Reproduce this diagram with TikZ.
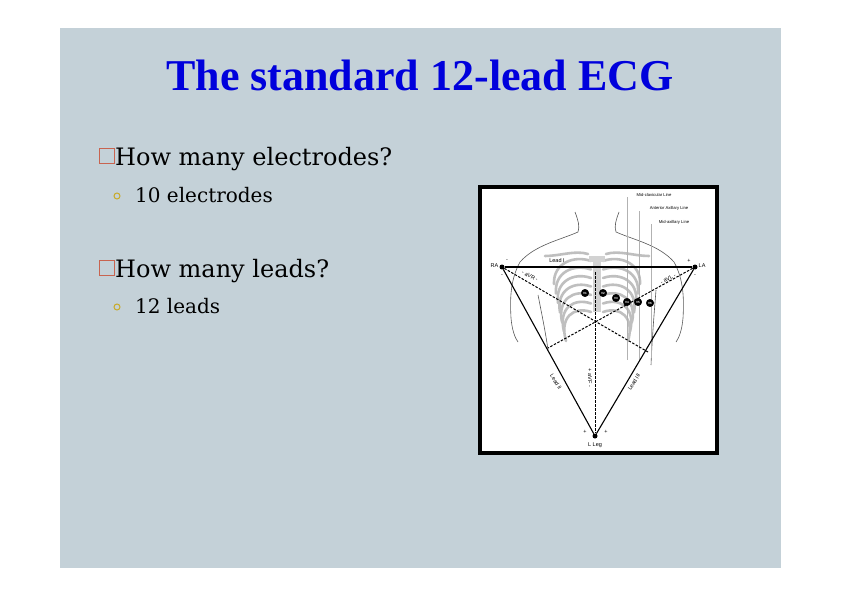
\documentclass[tikz,border=0pt]{standalone}
\usepackage{fontspec}
\setmainfont{Liberation Serif}
\newfontfamily\geo{DejaVu Serif}
\newfontfamily\sansf{Liberation Sans}
\begin{document}
\begin{tikzpicture}[x=1pt,y=-1pt,
  rib/.style={line width=2.6pt,gray!50,line cap=round},
  body/.style={gray!70!black,line width=0.6pt},
  lead/.style={black,line width=1.1pt},
  aug/.style={black,line width=1pt,dashed,dash pattern=on 2.5pt off 1.5pt},
  vline/.style={gray!60,line width=0.7pt},
  elec/.style={circle,fill=black,draw=black,inner sep=0pt,minimum size=7.5pt,text=white,font=\sansf\fontsize{3}{3}\selectfont\bfseries},
  tiny/.style={font=\sansf\fontsize{4.2}{5}\selectfont,inner sep=0.5pt},
  small/.style={font=\sansf\fontsize{5.5}{6}\selectfont,inner sep=0.5pt}]
\useasboundingbox (0,0) rectangle (842,596);
\fill[white] (0,0) rectangle (842,596);
\fill[fill={rgb,255:red,196;green,209;blue,216}] (60,28) rectangle (781,568);
\node[text={rgb,255:red,0;green,0;blue,220},font=\fontsize{44}{46}\selectfont\bfseries] (title) at (420,75) {The standard 12-lead ECG};
% bullets
\node[draw={rgb,255:red,200;green,100;blue,80},line width=0.7pt,minimum size=15pt,inner sep=0pt] (b1) at (107,156) {};
\node[anchor=base west,font=\geo\fontsize{24}{26}\selectfont,inner sep=0pt] (t1) at (115,165) {How many electrodes?};
\node[draw={rgb,255:red,200;green,170;blue,40},circle,line width=1pt,minimum size=6pt,inner sep=0pt] (c1) at (117,196) {};
\node[anchor=base west,font=\geo\fontsize{20}{22}\selectfont,inner sep=0pt] (s1) at (135,202) {10 electrodes};
\node[draw={rgb,255:red,200;green,100;blue,80},line width=0.7pt,minimum size=15pt,inner sep=0pt] (b2) at (107,268) {};
\node[anchor=base west,font=\geo\fontsize{24}{26}\selectfont,inner sep=0pt] (t2) at (115,277) {How many leads?};
\node[draw={rgb,255:red,200;green,170;blue,40},circle,line width=1pt,minimum size=6pt,inner sep=0pt] (c2) at (117,307) {};
\node[anchor=base west,font=\geo\fontsize{20}{22}\selectfont,inner sep=0pt] (s2) at (135,313) {12 leads};
% picture frame
\draw[line width=4pt,fill=white] (480,187) rectangle (717,453);
% body
\draw[body] (575,212) .. controls (578,220) and (580,226) .. (578,232) .. controls (560,240) and (535,245) .. (520,262) .. controls (510,280) and (510,300) .. (511,318) .. controls (512,330) and (515,338) .. (518,342);
\draw[body] (619,212) .. controls (616,220) and (614,226) .. (616,232) .. controls (634,240) and (659,245) .. (674,262) .. controls (684,280) and (684,300) .. (683,318) .. controls (682,330) and (679,338) .. (676,342);
\draw[body] (538,295) .. controls (542,315) and (546,335) .. (548,350);
\draw[body] (656,290) .. controls (654,315) and (652,340) .. (651,365);
% clavicles
\draw[rib] (588,254) .. controls (575,250) and (560,256) .. (545,256);
\draw[rib] (606,254) .. controls (619,250) and (634,256) .. (649,256);
% ribs
\foreach \i in {0,...,6}{
  \draw[rib] (591,{261+8.5*\i}) .. controls (574,{255+8.5*\i}) and ({553+\i},{263+9*\i}) .. ({554+2*\i},{284+9.5*\i});
  \draw[rib] (603,{261+8.5*\i}) .. controls (620,{255+8.5*\i}) and ({641-\i},{263+9*\i}) .. ({640-2*\i},{284+9.5*\i});
}
\fill[gray!35] (589,256) rectangle (605,262);
\fill[gray!35] (593,262) rectangle (601,312);
% vertical lines
\draw[vline] (627,197) -- (627,360);
\draw[vline] (639,211) -- (639,360);
\draw[vline] (651,224) -- (651,358);
\node[tiny,fill=white] (l1) at (654,195) {Mid-clavicular Line};
\node[tiny,fill=white] (l2) at (669,208) {Anterior Axillary Line};
\node[tiny,fill=white] (l3) at (674,222) {Mid-axillary Line};
% electrodes/leads
\node[circle,fill=black,inner sep=0pt,minimum size=5pt] (RA) at (502,267) {};
\node[circle,fill=black,inner sep=0pt,minimum size=5pt] (LA) at (695,267) {};
\node[circle,fill=black,inner sep=0pt,minimum size=5pt] (LL) at (595,436) {};
\coordinate (top) at (595,272);
\coordinate (aR) at (648,352);
\coordinate (aL) at (548,348);
\draw[lead] (RA) -- (LA);
\draw[lead] (RA) -- (LL);
\draw[lead] (LA) -- (LL);
\draw[aug] (RA) -- (aR);
\draw[aug] (LA) -- (aL);
\draw[aug] (top) -- (LL);
\node[small,anchor=east] (tRA) at (499,266) {RA};
\node[small,anchor=west] (tLA) at (698,266) {LA};
\node[small] (tLL) at (595,445) {L Leg};
\node[small] (tI) at (557,261) {Lead I};
\node[small,rotate=-28] (tR) at (530,276) {- aVR -};
\node[small,rotate=28] (tL) at (668,279) {- aVL -};
\node[small,rotate=-90] (tF) at (590,378) {+ aVF -};
\node[small,rotate=-58] (tII) at (556,382) {Lead II};
\node[small,rotate=58] (tIII) at (634,382) {Lead III};
\node[small] at (507,261) {-};
\node[small] at (502,276) {-};
\node[small] at (689,261) {+};
\node[small] at (695,276) {-};
\node[small] at (585,432) {+};
\node[small] at (606,432) {+};
\node[elec] (V1) at (585,293) {V1};
\node[elec] (V2) at (603,293) {V2};
\node[elec] (V3) at (616,298) {V3};
\node[elec] (V4) at (627,302) {V4};
\node[elec] (V5) at (638,302) {V5};
\node[elec] (V6) at (650,303) {V6};
\end{tikzpicture}
\end{document}
